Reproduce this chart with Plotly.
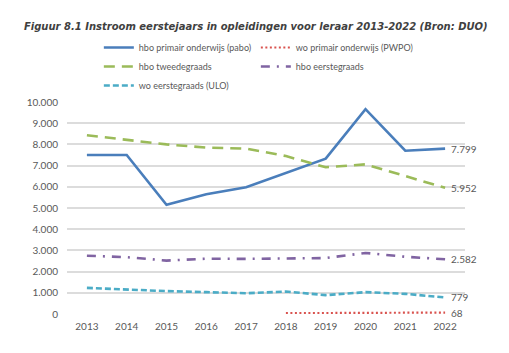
import plotly.graph_objects as go

years = [2013, 2014, 2015, 2016, 2017, 2018, 2019, 2020, 2021, 2022]
year_labels = ["2013", "2014", "2015", "2016", "2017", "2018", "2019", "2020", "2021", "2022"]
pabo = [7500, 7500, 5150, 5650, 5980, 6650, 7330, 9660, 7700, 7799]
pwpo = [None, None, None, None, None, 40, 45, 48, 55, 68]
tweede = [8430, 8230, 8000, 7850, 7800, 7450, 6920, 7060, 6500, 5952]
eerste = [2750, 2680, 2520, 2610, 2600, 2620, 2640, 2880, 2700, 2582]
ulo = [1230, 1140, 1080, 1030, 980, 1060, 890, 1030, 950, 779]
ytick_vals = [0, 1000, 2000, 3000, 4000, 5000, 6000, 7000, 8000, 9000, 10000]
ytick_text = ["0", "1.000", "2.000", "3.000", "4.000", "5.000", "6.000", "7.000", "8.000", "9.000", "10.000"]
end_labels = ["7.799", "68", "5.952", "2.582", "779"]

names = ["hbo primair onderwijs (pabo)", "wo primair onderwijs (PWPO)", "hbo tweedegraads",
         "hbo eerstegraads", "wo eerstegraads (ULO)"]
series = [pabo, pwpo, tweede, eerste, ulo]
colors = ["#4a7ebb", "#d9534f", "#9bbb59", "#8064a2", "#4bacc6"]
dashes = ["solid", "2px,2.5px", "11px,7px", "9px,7px,2px,7px", "6px,3px"]
widths = [2.6, 2.2, 2.6, 2.6, 2.6]

fig = go.Figure()
for n, s, c, d, w in zip(names, series, colors, dashes, widths):
    fig.add_trace(go.Scatter(x=years, y=s, name=n, mode="lines",
                             line=dict(color=c, dash=d, width=w)))

for s, lab in zip(series, end_labels):
    fig.add_annotation(x=years[-1], y=s[-1], text=lab, showarrow=False,
                       xanchor="left", xshift=4, yshift=0,
                       font=dict(family="Lato, Carlito, sans-serif", size=10, color="#595959"))

fig.update_layout(
    width=509, height=353,
    margin=dict(l=67, r=44, t=102, b=39),
    paper_bgcolor="white", plot_bgcolor="white",
    title=dict(text="<b><i>Figuur 8.1 Instroom eerstejaars in opleidingen voor leraar 2013-2022 (Bron: DUO)</i></b>",
               x=0.047, xanchor="left", y=1 - 26.7 / 353, yanchor="middle",
               font=dict(family="DejaVu Sans", size=10.0, color="#404040")),
    legend=dict(orientation="h", x=0.08, xanchor="left", y=1.0 + (102 - 33) / 212, yanchor="top",
                entrywidth=112, entrywidthmode="pixels", itemwidth=30,
                font=dict(family="Lato, Carlito, sans-serif", size=9, color="#595959"),
                tracegroupgap=0, traceorder="normal", bgcolor="rgba(0,0,0,0)"),
    showlegend=True,
)
fig.update_xaxes(range=[2012.5, 2022.5], tickvals=years, ticktext=year_labels,
                 showgrid=False, showline=False, zeroline=False,
                 ticks="", ticklabelstandoff=5,
                 tickfont=dict(family="Lato, Carlito, sans-serif", size=10, color="#595959"))
fig.update_yaxes(range=[0, 10000], tickvals=ytick_vals, ticktext=ytick_text,
                 showgrid=True, gridcolor="#dcdcdc", gridwidth=1.5, zeroline=False, showline=False,
                 ticks="", ticklabelstandoff=8,
                 tickfont=dict(family="Lato, Carlito, sans-serif", size=10, color="#595959"))

fig.write_html("out.html")
